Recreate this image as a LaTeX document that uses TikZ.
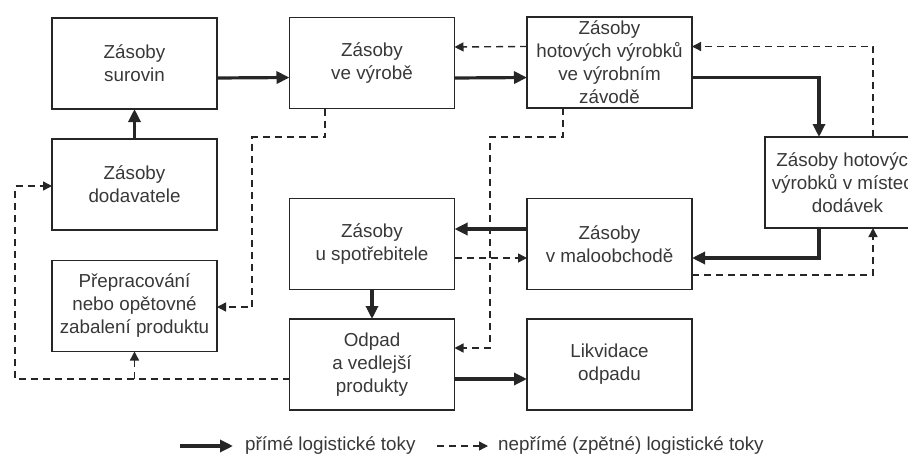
\documentclass[tikz,border=0pt]{standalone}
\usepackage{fontspec}
\setmainfont{Liberation Sans}
\usetikzlibrary{arrows.meta}
\definecolor{ink}{HTML}{262626}
\definecolor{txt}{HTML}{383838}
\begin{document}
\begin{tikzpicture}[x=1pt,y=-1pt,
  box/.style={draw=ink,line width=1.9pt,minimum width=165pt,minimum height=91pt,
    inner sep=2pt,outer sep=0pt,align=center,text=txt,
    font=\fontsize{18.8}{23}\selectfont},
  flow/.style={draw=ink,line width=3.2pt,-{Triangle[length=13pt,width=12pt]}},
  backflow/.style={draw=ink,line width=1.4pt,dash pattern=on 7pt off 5pt,
    -{Triangle[length=9pt,width=9pt]}},
  legend/.style={anchor=west,text=txt,inner sep=2pt,font=\fontsize{18.8}{23}\selectfont}]
\useasboundingbox (0,0) rectangle (908,455);
\clip (0,0) rectangle (908,455);

% stock nodes
\node[box] (sur) at (134.5,63.5)  {Zásoby\\surovin};
\node[box] (vyr) at (372,63)      {Zásoby\\ve výrobě};
\node[box] (hot) at (609.5,62.5)  {Zásoby\\hotových výrobků\\ve výrobním\\závodě};
\node[box] (mis) at (847.5,182.5) {Zásoby hotových\\výrobků v místech\\dodávek};
\node[box] (dod) at (134.5,184.5) {Zásoby\\dodavatele};
\node[box] (spo) at (372,244)     {Zásoby\\u spotřebitele};
\node[box] (mal) at (609.5,244)   {Zásoby\\v maloobchodě};
\node[box] (pre) at (134.5,306)   {Přepracování\\nebo opětovné\\zabalení produktu};
\node[box] (odp) at (372,364.5)   {Odpad\\a vedlejší\\produkty};
\node[box] (lik) at (609.5,364.5) {Likvidace\\odpadu};

% direct flows
\draw[flow] ([yshift=-14.5pt]sur.east) -- ([yshift=-14.5pt]vyr.west);
\draw[flow] ([yshift=-15pt]vyr.east) -- ([yshift=-15pt]hot.west);
\draw[flow] ([yshift=-15pt]hot.east) -| ([xshift=-28.5pt]mis.north);
\draw[flow] (dod.north) -- (sur.south);
\draw[flow] ([xshift=-28.5pt]mis.south) |- ([yshift=-14pt]mal.east);
\draw[flow] ([yshift=15pt]mal.west) -- ([yshift=15pt]spo.east);
\draw[flow] (spo.south) -- (odp.north);
\draw[flow] ([yshift=-14.5pt]odp.east) -- ([yshift=-14.5pt]lik.west);

% reverse flows
\coordinate (c1) at (252,137);
\coordinate (c2) at (490,137);
\coordinate (c3) at (15,300);
\coordinate (oline) at ([yshift=-14.5pt]odp.west);
\draw[backflow] ([yshift=16pt]hot.west) -- ([yshift=16pt]vyr.east);
\draw[backflow] ([xshift=25.5pt]mis.north) |- ([yshift=16pt]hot.east);
\draw[backflow] ([xshift=-47pt]vyr.south) |- (c1) |- ([yshift=-1pt]pre.east);
\draw[backflow] ([xshift=-46.5pt]hot.south) |- (c2) |- ([yshift=16.5pt]odp.east);
\draw[backflow] ([yshift=-14pt]spo.east) -- ([yshift=-14pt]mal.west);
\draw[backflow] ([yshift=-31pt]mal.east) -| ([xshift=25.5pt]mis.south);
\draw[backflow] (oline) -| (c3) |- ([yshift=-1.5pt]dod.west);
\draw[backflow] (oline -| pre.south) -- (pre.south);

% legend
\node[legend] (lg1) at (243,446) {přímé logistické toky};
\node[legend] (lg2) at (496,446) {nepřímé (zpětné) logistické toky};
\coordinate (ls1) at (180,446);
\coordinate (ls2) at (437,446);
\draw[flow] (ls1) -- ([xshift=-10pt]lg1.west);
\draw[backflow] (ls2) -- ([xshift=-8pt]lg2.west);
\end{tikzpicture}
\end{document}
